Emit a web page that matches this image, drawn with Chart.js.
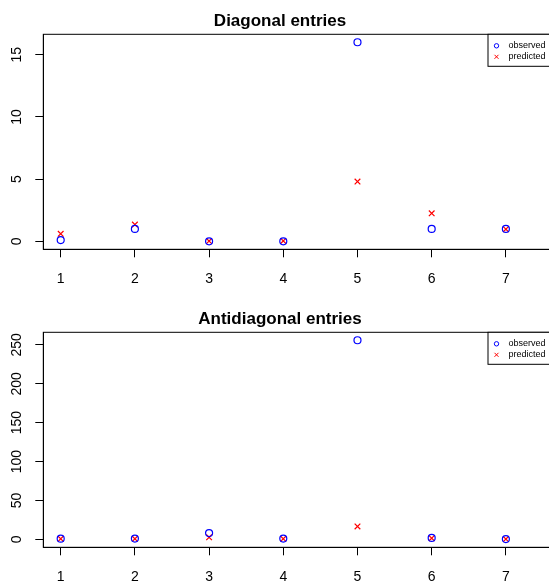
<!DOCTYPE html>
<html>
<head>
<meta charset="utf-8">
<script src="https://cdn.jsdelivr.net/npm/chart.js@4"></script>
<style>
    html, body { margin: 0; padding: 0; background: #fff; }
    #wrap { position: relative; width: 549px; height: 582px; overflow: hidden; }
    .panel { position: absolute; left: 0; width: 566px; height: 291px; }
    #diagPanel { top: 0; }
    #antiPanel { top: 298px; }
</style>
</head>
<body>
<div id="wrap">
    <div class="panel" id="diagPanel"><canvas id="diagChart" width="566" height="291"></canvas></div>
    <div class="panel" id="antiPanel"><canvas id="antiChart" width="566" height="291"></canvas></div>
</div>
<script>
const categories = [1, 2, 3, 4, 5, 6, 7];

const diagObserved = [0.1, 1, 0, 0, 16, 1, 1];
const diagPredicted = [0.6, 1.35, 0.02, 0.03, 4.8, 2.25, 0.98];
const diagTicks = [0, 5, 10, 15];

const antiObserved = [0.9, 1, 8, 1, 256, 1.8, 0.4];
const antiPredicted = [0.7, 0.6, 2.6, 0.7, 16.6, 1.5, 0.3];
const antiTicks = [0, 50, 100, 150, 200, 250];

const colors = {
    blue: '#0000ff',
    red: '#ff0000',
    black: '#000000'
};

const FONT = "'Liberation Sans', Arial, Helvetica, sans-serif";
Chart.defaults.font.family = FONT;
Chart.defaults.color = colors.black;

// box around the plot region + legend in the top-right corner
const boxPlugin = {
    id: 'rBox',
    afterDraw(chart) {
        const { ctx, chartArea: a } = chart;
        ctx.save();
        ctx.strokeStyle = colors.black;
        ctx.lineWidth = 1;
        ctx.strokeRect(a.left, a.top, a.right - a.left, a.bottom - a.top);

        const lw = 72, lh = 32;
        const lx = a.right - lw, ly = a.top;
        ctx.fillStyle = '#fff';
        ctx.fillRect(lx, ly, lw, lh);
        ctx.strokeRect(lx, ly, lw, lh);

        chart.data.datasets.forEach((ds, i) => {
            const y = ly + 11.5 + i * 11;
            ctx.strokeStyle = ds.borderColor;
            ctx.lineWidth = 1;
            ctx.beginPath();
            if (ds.pointStyle === 'circle') {
                ctx.arc(lx + 8.5, y, 2.2, 0, Math.PI * 2);
            } else {
                ctx.moveTo(lx + 6.5, y - 2); ctx.lineTo(lx + 10.5, y + 2);
                ctx.moveTo(lx + 6.5, y + 2); ctx.lineTo(lx + 10.5, y - 2);
            }
            ctx.stroke();
            ctx.fillStyle = colors.black;
            ctx.font = '9px ' + FONT;
            ctx.textAlign = 'left';
            ctx.textBaseline = 'middle';
            ctx.fillText(ds.label, lx + 20.5, y);
        });
        ctx.restore();
    }
};

function toPoints(values) {
    return categories.map((c, i) => ({ x: c, y: values[i] }));
}

function makeChart(id, title, observed, predicted, yMin, yMax, yTicks, yPad) {
    const ctx = document.getElementById(id).getContext('2d');
    return new Chart(ctx, {
        type: 'scatter',
        data: {
            datasets: [{
                label: 'observed',
                data: toPoints(observed),
                pointStyle: 'circle',
                radius: 3.5,
                borderColor: colors.blue,
                backgroundColor: 'transparent',
                borderWidth: 1.2
            }, {
                label: 'predicted',
                data: toPoints(predicted),
                pointStyle: 'crossRot',
                radius: 4,
                borderColor: colors.red,
                backgroundColor: colors.red,
                borderWidth: 1.2
            }]
        },
        options: {
            responsive: false,
            animation: false,
            layout: { padding: { left: 0, right: 6, top: 0, bottom: 0 } },
            plugins: {
                legend: { display: false },
                tooltip: { enabled: false },
                title: {
                    display: true,
                    text: title,
                    color: colors.black,
                    font: { size: 17, weight: 'bold', lineHeight: 1.2 },
                    padding: { top: 10.8, bottom: 3.1 }
                }
            },
            scales: {
                x: {
                    type: 'linear',
                    min: 0.7655,
                    max: 7.7295,
                    afterBuildTicks: s => { s.ticks = categories.map(v => ({ value: v })); },
                    afterFit: s => { s.height = 41.7; },
                    grid: { drawOnChartArea: false, drawTicks: true, tickLength: 8, color: colors.black },
                    border: { display: true, color: colors.black },
                    ticks: { padding: 13.5, font: { size: 14 }, color: colors.black, maxRotation: 0 }
                },
                y: {
                    min: yMin,
                    max: yMax,
                    afterBuildTicks: s => { s.ticks = yTicks.map(v => ({ value: v })); },
                    afterFit: s => { s.width = 43.3; },
                    grid: { drawOnChartArea: false, drawTicks: true, tickLength: 8, color: colors.black },
                    border: { display: true, color: colors.black },
                    ticks: {
                        padding: yPad,
                        font: { size: 14 },
                        color: colors.black,
                        minRotation: 90,
                        maxRotation: 90,
                        crossAlign: 'center'
                    }
                }
            }
        },
        plugins: [boxPlugin]
    });
}

makeChart('diagChart', 'Diagonal entries', diagObserved, diagPredicted, -0.64, 16.64, diagTicks, 10);
makeChart('antiChart', 'Antidiagonal entries', antiObserved, antiPredicted, -10.24, 266.24, antiTicks, 6);
</script>
</body>
</html>
